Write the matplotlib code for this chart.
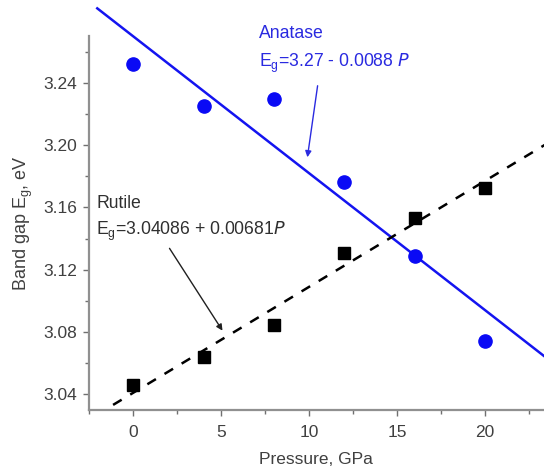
import matplotlib
matplotlib.use("Agg")
import matplotlib.pyplot as plt
import numpy as np
from matplotlib.ticker import MultipleLocator

plt.rcParams['font.family'] = ['Liberation Sans', 'DejaVu Sans']

pressure = [0, 4, 8, 12, 16, 20]
anatase = [3.252, 3.225, 3.230, 3.1765, 3.129, 3.074]
rutile = [3.0458, 3.064, 3.0846, 3.131, 3.153, 3.1727]

fit_x_anatase = [-2.05, 23.5]
fit_x_rutile = [-1.15, 23.5]
anatase_fit = [3.27 - 0.0088 * p for p in fit_x_anatase]
rutile_fit = [3.04086 + 0.00681 * p for p in fit_x_rutile]

fig = plt.figure(figsize=(5.44, 4.68), dpi=100)
ax = fig.add_axes([89.35/544, 1 - 409.6/468, (543 - 89.35)/544, (409.6 - 36.4)/468])

ax.plot(fit_x_anatase, anatase_fit, color='#1414f0', lw=1.8, clip_on=False, zorder=2)
ax.plot(fit_x_rutile, rutile_fit, color='black', lw=1.8, ls=(0, (4, 4)), clip_on=False, zorder=2)
ax.plot(pressure, anatase, 'o', color='#0a0af5', ms=9.5, clip_on=False, zorder=3)
ax.plot(pressure, rutile, 's', color='black', ms=8.6, clip_on=False, zorder=3)

ax.set_xlim(-2.5, 23.3)
ax.set_ylim(3.03, 3.27)
ax.xaxis.set_major_locator(MultipleLocator(5))
ax.xaxis.set_minor_locator(MultipleLocator(2.5))
ax.yaxis.set_major_locator(MultipleLocator(0.04))
ax.yaxis.set_minor_locator(MultipleLocator(0.02))
ax.yaxis.set_major_formatter(matplotlib.ticker.FormatStrFormatter('%.2f'))

for s in ['top', 'right']:
    ax.spines[s].set_visible(False)
for s in ['left', 'bottom']:
    ax.spines[s].set_color('#909090')
    ax.spines[s].set_linewidth(1.6)
ax.tick_params(which='both', direction='out', color='#707070', labelcolor='#404040', labelsize=12.5)
ax.tick_params(which='major', length=4, width=1)
ax.tick_params(which='minor', length=3, width=1)
ax.tick_params(axis='x', pad=7)
ax.tick_params(axis='y', pad=5)

ax.set_xlabel('Pressure, GPa', color='#404040', fontsize=12.5, labelpad=9)
ax.set_ylabel('Band gap E$_\\mathregular{g}$, eV', color='#404040', fontsize=13, labelpad=6)

blue = '#2a2ae0'
ax.text(259, 434, 'Anatase', transform=None, color=blue, fontsize=12.7, ha='left', va='center')
ax.text(259, 405, 'E$_\\mathregular{g}$=3.27 - 0.0088 $\\it{P}$', transform=None, color=blue,
        fontsize=12.7, ha='left', va='center')
ax.annotate('', xy=(307, 468 - 160), xytext=(318, 468 - 83), xycoords='figure pixels',
            textcoords='figure pixels',
            arrowprops=dict(arrowstyle='-|>', color=blue, lw=1, mutation_scale=9))

ax.text(96, 265, 'Rutile', transform=None, color='#303030', fontsize=12.7, ha='left', va='center')
ax.text(96, 237, 'E$_\\mathregular{g}$=3.04086 + 0.00681$\\it{P}$', transform=None, color='#303030',
        fontsize=12.7, ha='left', va='center')
ax.annotate('', xy=(224, 468 - 333), xytext=(168, 468 - 246), xycoords='figure pixels',
            textcoords='figure pixels',
            arrowprops=dict(arrowstyle='-|>', color='#202020', lw=1, mutation_scale=9))

fig.savefig('out.png', dpi=100)
